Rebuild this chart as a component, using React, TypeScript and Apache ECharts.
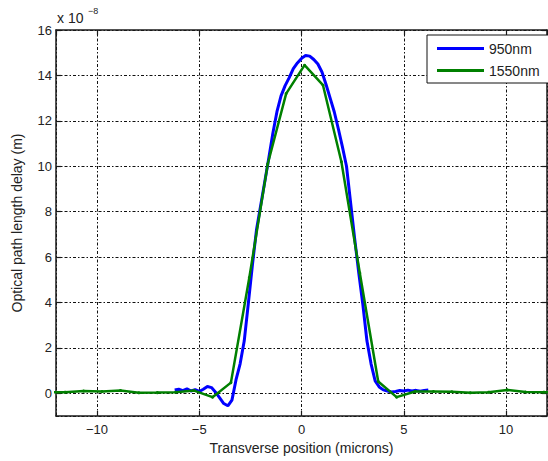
import { useEffect, useRef } from "react";
import * as echarts from "echarts";

// Optical path length delay, in units of 1e-8 m, against transverse position (microns)

// 950 nm trace
const blueX = [
  -6.2, -6.0, -5.8, -5.6, -5.4, -5.2, -5.0, -4.8, -4.6, -4.4, -4.2, -4.0, -3.8, -3.6, -3.4, -3.2,
  -3.0, -2.8, -2.6, -2.4, -2.2, -2.0, -1.8, -1.6, -1.4, -1.2, -1.0, -0.8, -0.6, -0.4, -0.2, 0.0,
  0.2, 0.4, 0.6, 0.8, 1.0, 1.2, 1.4, 1.6, 1.8, 2.0, 2.2, 2.4, 2.6, 2.8, 3.0, 3.2,
  3.4, 3.6, 3.8, 4.0, 4.2, 4.4, 4.6, 4.8, 5.0, 5.2, 5.4, 5.6, 5.8, 6.0, 6.2,
];
const blueY = [
  0.15, 0.18, 0.12, 0.2, 0.1, 0.16, 0.08, 0.18, 0.3, 0.25, 0.05, -0.2, -0.45, -0.55, -0.3, 0.6,
  1.3, 2.3, 3.95, 5.65, 7.2, 8.25, 9.3, 10.35, 11.45, 12.4, 13.1, 13.55, 13.9, 14.3, 14.55, 14.75,
  14.88, 14.85, 14.7, 14.5, 14.15, 13.6, 13.0, 12.4, 11.65, 10.85, 10.0, 8.4, 6.8, 5.3, 3.9, 2.3,
  1.3, 0.55, 0.28, 0.15, 0.1, 0.06, 0.08, 0.12, 0.1, 0.14, 0.1, 0.13, 0.09, 0.12, 0.15,
];

// 1550 nm trace
const greenX = [
  -12.45, -11.55, -10.65, -9.75, -8.85, -7.95, -7.05, -6.15, -5.25, -4.35, -3.45, -2.55, -1.65, -0.75, 0.15,
  1.05, 1.95, 2.85, 3.75, 4.65, 5.55, 6.45, 7.35, 8.25, 9.15, 10.05, 10.95, 11.85, 12.75,
];
const greenY = [
  0.05, 0.05, 0.1, 0.08, 0.12, 0.02, 0.03, 0.05, 0.12, -0.17, 0.47, 5.1, 10.1, 13.2, 14.45,
  13.57, 10.2, 5.3, 0.52, -0.17, 0.08, 0.08, 0.07, 0.02, 0.05, 0.15, 0.06, 0.05, 0.05,
];

const seriesNames = ["950nm", "1550nm"];
const seriesColors = ["#0000ff", "#008000"];

const FONT = "'Liberation Sans', Arial, Helvetica, sans-serif";
const TEXT = "#222";

export default function App() {
  const ref = useRef<HTMLDivElement>(null);

  useEffect(() => {
    if (!ref.current) return;
    const chart = echarts.init(ref.current, undefined, { renderer: "svg" });

    const axisLine = { show: true, onZero: false, lineStyle: { color: "#1a1a1a", width: 1.5 } };
    const axisTick = { show: true, inside: true, length: 5, lineStyle: { color: "#1a1a1a", width: 1.2 } };
    const gridLine = { show: true, lineStyle: { color: "#111", width: 1, type: [3, 2, 1.5, 2] as number[] } };
    const minus = (v: number) => String(v).replace("-", "\u2212");

    chart.setOption({
      animation: false,
      backgroundColor: "#fff",
      grid: { left: 56, top: 30, right: 1, bottom: 45, containLabel: false },
      xAxis: [
        {
          type: "value",
          min: -12,
          max: 12,
          splitNumber: 5,
          position: "bottom",
          axisLine,
          axisTick,
          splitLine: gridLine,
          axisLabel: {
            showMinLabel: false,
            showMaxLabel: false,
            margin: 7,
            fontSize: 13,
            fontFamily: FONT,
            color: TEXT,
            formatter: minus,
          },
          name: "Transverse position (microns)",
          nameLocation: "middle",
          nameGap: 17,
          nameTextStyle: { fontSize: 14, fontFamily: FONT, color: TEXT },
        },
        {
          type: "value",
          min: -12,
          max: 12,
          splitNumber: 5,
          position: "top",
          axisLine,
          axisTick,
          axisLabel: { show: false },
          splitLine: { show: false },
        },
      ],
      yAxis: [
        {
          type: "value",
          min: -1,
          max: 16,
          splitNumber: 8,
          position: "left",
          axisLine,
          axisTick,
          splitLine: gridLine,
          axisLabel: {
            showMinLabel: false,
            margin: 4,
            fontSize: 13,
            fontFamily: FONT,
            color: TEXT,
          },
          name: "Optical path length delay (m)",
          nameLocation: "middle",
          nameGap: 32,
          nameTextStyle: { fontSize: 14, fontFamily: FONT, color: TEXT },
        },
        {
          type: "value",
          min: -1,
          max: 16,
          splitNumber: 8,
          position: "right",
          axisLine,
          axisTick,
          axisLabel: { show: false },
          splitLine: { show: false },
        },
      ],
      legend: {
        orient: "vertical",
        left: 427,
        top: 35,
        padding: [6, 9, 5, 10],
        itemWidth: 47,
        itemHeight: 3,
        itemGap: 7,
        icon: "rect",
        backgroundColor: "#fff",
        borderColor: "#111",
        borderWidth: 1,
        borderRadius: 0,
        textStyle: { fontSize: 14, lineHeight: 15, fontFamily: FONT, color: TEXT },
        data: seriesNames,
      },
      graphic: [
        { type: "text", left: 57, top: 11, style: { text: "x 10", fontSize: 14, fontFamily: FONT, fill: TEXT } },
        { type: "text", left: 88, top: 6, style: { text: "\u22128", fontSize: 9, fontFamily: FONT, fill: TEXT } },
      ],
      series: [
        {
          name: seriesNames[0],
          type: "line",
          data: blueX.map((x, i) => [x, blueY[i]]),
          showSymbol: false,
          smooth: false,
          lineStyle: { color: seriesColors[0], width: 3 },
          itemStyle: { color: seriesColors[0] },
          z: 2,
        },
        {
          name: seriesNames[1],
          type: "line",
          data: greenX.map((x, i) => [x, greenY[i]]),
          symbol: "circle",
          symbolSize: 3,
          showSymbol: true,
          lineStyle: { color: seriesColors[1], width: 2.5 },
          itemStyle: { color: seriesColors[1] },
          z: 3,
        },
      ],
    });

    return () => chart.dispose();
  }, []);

  return (
    <div
      ref={ref}
      style={{ position: "fixed", left: 0, top: 0, width: 548, height: 461, background: "#fff" }}
    />
  );
}
